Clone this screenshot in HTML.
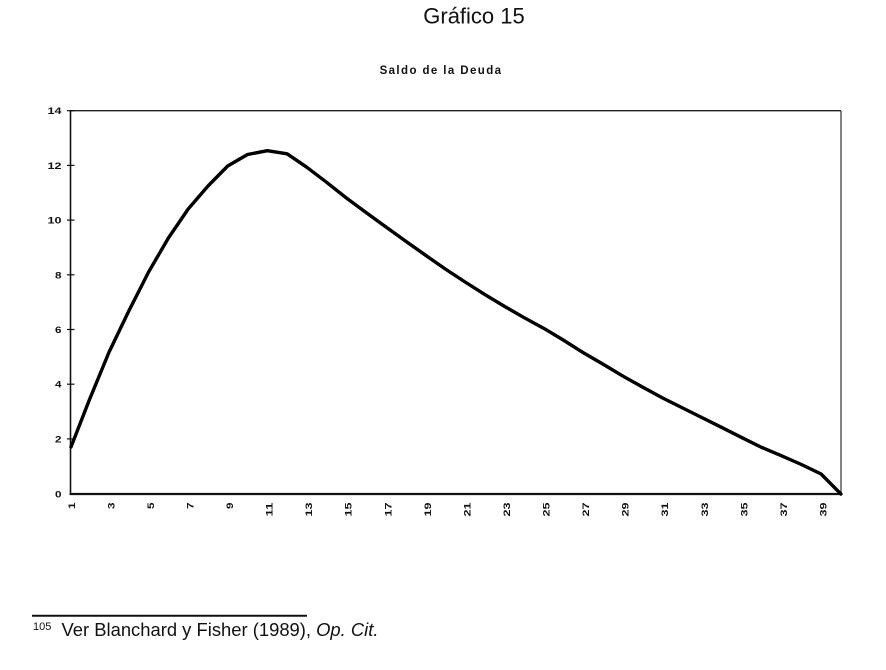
<!DOCTYPE html>
<html>
<head>
<meta charset="utf-8">
<style>
  html, body { margin: 0; padding: 0; background: #fff; }
  body { width: 886px; height: 670px; overflow: hidden; position: relative; }
  svg { position: absolute; left: 0; top: 0; }
</style>
</head>
<body>
<svg width="886" height="670" viewBox="0 0 886 670" xmlns="http://www.w3.org/2000/svg">
  <rect width="886" height="670" fill="#fff"/>
  <!-- Titles -->
  <text x="474" y="23.5" font-family="Liberation Sans, Arial, sans-serif" font-size="22" text-anchor="middle" fill="#111">Gráfico 15</text>
  <text x="441" y="74" font-family="Liberation Sans, Arial, sans-serif" font-size="11.5" font-weight="bold" text-anchor="middle" letter-spacing="1.4" fill="#111">Saldo de la Deuda</text>

  <!-- Plot frame -->
  <line x1="70.5" y1="110.7" x2="841" y2="110.7" stroke="#222" stroke-width="1.3"/>
  <line x1="841" y1="110.7" x2="841" y2="494" stroke="#333" stroke-width="1.2"/>
  <line x1="70.5" y1="110" x2="70.5" y2="495" stroke="#111" stroke-width="1.6"/>
  <line x1="69.5" y1="494" x2="842" y2="494" stroke="#111" stroke-width="2.2"/>

  <!-- Y ticks -->
  <g stroke="#111" stroke-width="1.2">
    <line x1="67" y1="110.7" x2="74.5" y2="110.7"/>
    <line x1="67" y1="165.4" x2="74.5" y2="165.4"/>
    <line x1="67" y1="220.1" x2="74.5" y2="220.1"/>
    <line x1="67" y1="274.8" x2="74.5" y2="274.8"/>
    <line x1="67" y1="329.5" x2="74.5" y2="329.5"/>
    <line x1="67" y1="384.2" x2="74.5" y2="384.2"/>
    <line x1="67" y1="438.9" x2="74.5" y2="438.9"/>
  </g>

  <!-- Y labels -->
  <g font-family="Liberation Sans, Arial, sans-serif" font-size="9.5" font-weight="bold" text-anchor="end" fill="#111">
    <text x="61.5" y="114.2" textLength="14" lengthAdjust="spacingAndGlyphs">14</text>
    <text x="61.5" y="168.9" textLength="14" lengthAdjust="spacingAndGlyphs">12</text>
    <text x="61.5" y="223.6" textLength="14" lengthAdjust="spacingAndGlyphs">10</text>
    <text x="61.5" y="278.3" textLength="6.5" lengthAdjust="spacingAndGlyphs">8</text>
    <text x="61.5" y="333" textLength="6.5" lengthAdjust="spacingAndGlyphs">6</text>
    <text x="61.5" y="387.7" textLength="6.5" lengthAdjust="spacingAndGlyphs">4</text>
    <text x="61.5" y="442.4" textLength="6.5" lengthAdjust="spacingAndGlyphs">2</text>
    <text x="61.5" y="497.5" textLength="6.5" lengthAdjust="spacingAndGlyphs">0</text>
  </g>

  <!-- X labels (rotated) -->
  <g font-family="Liberation Sans, Arial, sans-serif" font-size="9.5" font-weight="bold" text-anchor="end" fill="#111">
    <text transform="translate(74.8,502.5) rotate(-90)" textLength="6.5" lengthAdjust="spacingAndGlyphs">1</text>
    <text transform="translate(114.3,502.5) rotate(-90)" textLength="6.5" lengthAdjust="spacingAndGlyphs">3</text>
    <text transform="translate(153.9,502.5) rotate(-90)" textLength="6.5" lengthAdjust="spacingAndGlyphs">5</text>
    <text transform="translate(193.5,502.5) rotate(-90)" textLength="6.5" lengthAdjust="spacingAndGlyphs">7</text>
    <text transform="translate(233,502.5) rotate(-90)" textLength="6.5" lengthAdjust="spacingAndGlyphs">9</text>
    <text transform="translate(272.6,502.5) rotate(-90)" textLength="14" lengthAdjust="spacingAndGlyphs">11</text>
    <text transform="translate(312.2,502.5) rotate(-90)" textLength="14" lengthAdjust="spacingAndGlyphs">13</text>
    <text transform="translate(351.7,502.5) rotate(-90)" textLength="14" lengthAdjust="spacingAndGlyphs">15</text>
    <text transform="translate(391.3,502.5) rotate(-90)" textLength="14" lengthAdjust="spacingAndGlyphs">17</text>
    <text transform="translate(430.8,502.5) rotate(-90)" textLength="14" lengthAdjust="spacingAndGlyphs">19</text>
    <text transform="translate(470.4,502.5) rotate(-90)" textLength="14" lengthAdjust="spacingAndGlyphs">21</text>
    <text transform="translate(510,502.5) rotate(-90)" textLength="14" lengthAdjust="spacingAndGlyphs">23</text>
    <text transform="translate(549.5,502.5) rotate(-90)" textLength="14" lengthAdjust="spacingAndGlyphs">25</text>
    <text transform="translate(589.1,502.5) rotate(-90)" textLength="14" lengthAdjust="spacingAndGlyphs">27</text>
    <text transform="translate(628.6,502.5) rotate(-90)" textLength="14" lengthAdjust="spacingAndGlyphs">29</text>
    <text transform="translate(668.2,502.5) rotate(-90)" textLength="14" lengthAdjust="spacingAndGlyphs">31</text>
    <text transform="translate(707.8,502.5) rotate(-90)" textLength="14" lengthAdjust="spacingAndGlyphs">33</text>
    <text transform="translate(747.3,502.5) rotate(-90)" textLength="14" lengthAdjust="spacingAndGlyphs">35</text>
    <text transform="translate(786.9,502.5) rotate(-90)" textLength="14" lengthAdjust="spacingAndGlyphs">37</text>
    <text transform="translate(826.4,502.5) rotate(-90)" textLength="14" lengthAdjust="spacingAndGlyphs">39</text>
  </g>

  <!-- Series -->
  <polyline fill="none" stroke="#000" stroke-width="3.4" stroke-linejoin="round" stroke-linecap="round"
    points="71,447 89.3,400 109.1,352 128.8,311 148.6,272 168.4,238 188.2,209 208,186 227.7,166 247.5,154.5 267.3,150.7 287.1,153.8 306.9,167.3 326.6,182.3 346.4,198 366.2,212.6 386,227 405.8,241.3 425.5,255.2 445.3,269 465.1,282 484.9,294.6 504.7,306.5 524.4,317.8 544.2,328.6 564,340.5 583.8,353 603.6,364.5 623.3,376.3 643.1,387.4 662.9,398.1 682.7,408 702.5,417.9 722.2,427.7 742,437.7 761.8,447.5 781.6,455.8 801.4,464.5 821.1,474 840.9,494"/>

  <!-- Footnote -->
  <line x1="32" y1="615.7" x2="307" y2="615.7" stroke="#111" stroke-width="2"/>
  <text x="33" y="630" font-family="Liberation Sans, Arial, sans-serif" font-size="11" fill="#111">105</text>
  <text x="61.5" y="636" font-family="Liberation Sans, Arial, sans-serif" font-size="18" fill="#111" textLength="317" lengthAdjust="spacingAndGlyphs">Ver Blanchard y Fisher (1989), <tspan font-style="italic">Op. Cit.</tspan></text>
</svg>
</body>
</html>
